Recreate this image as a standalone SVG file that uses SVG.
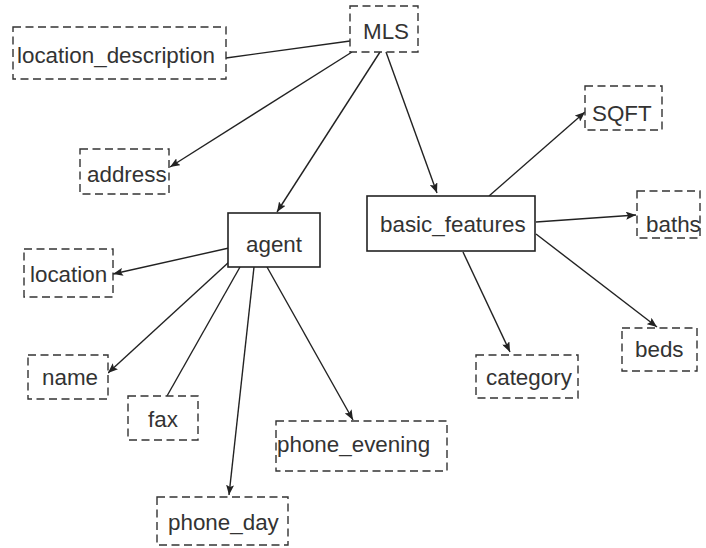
<svg xmlns="http://www.w3.org/2000/svg" width="706" height="548" viewBox="0 0 706 548">
<style>
.d{fill:#fff;stroke:#333;stroke-width:1.4;stroke-dasharray:8,4.5}
.s{fill:#fff;stroke:#222;stroke-width:1.6}
text{font-family:"Liberation Sans",Arial,sans-serif;font-size:22.4px;fill:#333}
.c line{stroke:#222;stroke-width:1.4}
.a{marker-end:url(#ah)}
</style>
<defs>
<marker id="ah" markerUnits="userSpaceOnUse" markerWidth="11" markerHeight="8" refX="10" refY="4" orient="auto">
<path d="M0,0 L10,4 L0,8 L2,4 z" fill="#222"/>
</marker>
</defs>
<g class="c">
<line x1="350" y1="41" x2="226" y2="58"/>
<line class="a" x1="352" y1="52" x2="170" y2="167"/>
<line class="a" x1="380" y1="52" x2="277" y2="212"/>
<line class="a" x1="386" y1="52" x2="437" y2="193"/>
<line class="a" x1="489" y1="196" x2="585" y2="112"/>
<line class="a" x1="536" y1="222" x2="636" y2="215"/>
<line class="a" x1="536" y1="234" x2="657" y2="327"/>
<line class="a" x1="463" y1="252" x2="510" y2="352"/>
<line class="a" x1="229" y1="248" x2="113" y2="274"/>
<line class="a" x1="229" y1="262" x2="108" y2="373"/>
<line x1="240" y1="267" x2="167" y2="396"/>
<line class="a" x1="254" y1="267" x2="229" y2="495"/>
<line class="a" x1="267" y1="267" x2="353" y2="420"/>
</g>
<g id="MLS"><rect class="d" x="350" y="6" width="68" height="46"/><text x="363" y="39">MLS</text></g>
<g id="location_description"><rect class="d" x="13" y="27" width="213" height="52"/><text x="17" y="63">location_description</text></g>
<g id="address"><rect class="d" x="80" y="149" width="89" height="45"/><text x="87" y="182">address</text></g>
<g id="agent"><rect class="s" x="228" y="213" width="92" height="54"/><text x="246" y="252">agent</text></g>
<g id="basic_features"><rect class="s" x="367" y="196" width="168" height="55"/><text x="380" y="232">basic_features</text></g>
<g id="SQFT"><rect class="d" x="585" y="86" width="77" height="44"/><text x="592" y="121">SQFT</text></g>
<g id="baths"><rect class="d" x="637" y="191" width="63" height="47"/><text x="646" y="232">baths</text></g>
<g id="beds"><rect class="d" x="622" y="328" width="75" height="43"/><text x="635" y="357">beds</text></g>
<g id="category"><rect class="d" x="476" y="355" width="102" height="43"/><text x="486" y="385">category</text></g>
<g id="location"><rect class="d" x="24" y="249" width="89" height="48"/><text x="30" y="282">location</text></g>
<g id="name"><rect class="d" x="28" y="355" width="80" height="44"/><text x="42" y="385">name</text></g>
<g id="fax"><rect class="d" x="128" y="396" width="70" height="44"/><text x="148" y="427">fax</text></g>
<g id="phone_day"><rect class="d" x="157" y="497" width="131" height="48"/><text x="168" y="530">phone_day</text></g>
<g id="phone_evening"><rect class="d" x="276" y="421" width="171" height="50"/><text x="277" y="452">phone_evening</text></g>
</svg>
